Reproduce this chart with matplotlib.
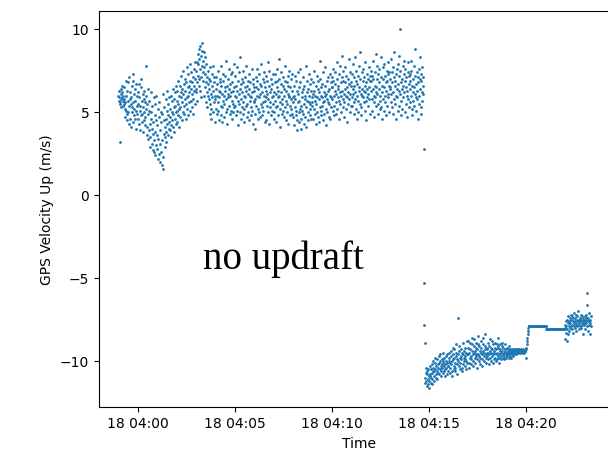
import matplotlib
matplotlib.use('Agg')
import matplotlib.pyplot as plt
import matplotlib.dates as mdates
import numpy as np
import pandas as pd

day = '2021-07-18'

# vertical speed (m/s), one value per second, one block per minute of the log
climb_starts = ['03:59:00', '04:00:00', '04:01:00', '04:02:00', '04:03:00', '04:04:00', '04:05:00', '04:06:00',
                '04:07:00', '04:08:00', '04:09:00', '04:10:00', '04:11:00', '04:12:00', '04:13:00', '04:14:00']
climb_v = [
    """6.0 5.7 5.9 6.3 3.2 5.6 5.5 6.1 6.4 5.8 5.3 5.9 6.6 6.2 5.7 5.4 6.0 5.5 5.8 6.5
       5.2 4.7 5.6 6.0 6.9 5.1 4.5 4.9 6.3 5.7 5.0 6.8 7.1 5.4 4.3 4.6 5.8 6.2 5.5 4.1
       5.9 6.6 5.3 5.0 4.4 6.9 7.3 5.6 4.8 5.2 6.1 4.6 5.7 6.4 4.0 5.1 6.7 5.4 4.9 6.0""",
    """5.5 6.2 4.6 4.3 5.9 6.7 5.1 5.4 3.9 4.8 6.5 7.0 5.7 4.4 4.9 5.3 6.1 3.8 4.5 5.8
       6.3 5.0 4.2 4.7 5.6 7.8 6.0 5.2 3.6 4.1 5.5 6.4 4.9 3.4 3.9 5.1 5.7 4.3 2.9 3.5
       4.6 6.2 5.0 3.1 4.0 5.4 3.7 2.7 4.4 5.9 3.3 2.6 4.8 5.5 3.8 2.4 3.0 4.5 6.0 3.6""",
    """2.8 4.2 5.2 3.4 2.2 2.5 4.7 5.6 3.1 2.0 3.9 5.0 4.4 2.6 1.8 3.3 4.9 6.1 2.3 1.6
       3.7 4.5 5.3 2.9 3.5 4.1 5.8 4.6 3.2 3.8 5.1 6.3 4.3 3.6 4.8 5.5 4.0 4.4 5.9 3.9
       4.7 5.2 6.0 4.2 3.5 5.0 5.7 4.5 6.4 4.9 4.1 5.3 5.8 3.8 4.6 6.2 5.4 4.3 5.0 6.6""",
    """5.1 4.4 5.7 6.3 4.8 5.5 6.9 4.1 5.2 6.0 6.6 5.3 4.7 5.9 7.2 6.2 4.5 5.6 6.4 5.0
       7.5 6.1 5.4 4.9 6.7 5.8 7.0 6.3 4.6 5.5 6.8 7.7 5.9 5.2 6.5 4.8 6.0 7.3 6.6 5.6
       6.2 5.1 7.9 6.9 5.7 6.4 7.4 5.3 6.1 6.8 7.1 5.8 4.9 6.3 7.6 6.6 5.5 7.0 8.0 6.2""",
    """6.4 7.5 8.0 6.8 5.7 7.2 8.5 7.9 6.6 7.0 8.8 8.2 6.3 7.6 9.0 8.4 7.1 5.9 7.8 8.7
       9.2 8.1 6.9 7.4 8.6 7.7 6.0 6.5 8.3 7.3 5.6 6.8 7.9 7.1 6.2 5.3 6.7 7.5 6.0 5.8
       7.0 6.4 4.9 5.5 7.7 6.9 6.1 5.2 4.6 6.6 7.3 5.9 6.3 7.8 5.0 5.6 6.8 7.1 4.4 6.0""",
    """5.8 6.4 7.1 5.2 4.9 6.0 6.7 7.5 5.6 5.1 6.3 4.5 5.9 6.8 6.2 7.0 4.8 5.4 6.6 7.8
       6.1 5.3 4.4 5.7 6.9 7.3 6.0 5.5 4.7 6.5 7.2 6.3 5.0 5.8 8.1 6.6 5.2 4.3 6.1 7.0
       5.9 6.4 7.6 5.4 4.9 6.7 6.0 5.1 7.3 6.2 4.6 5.7 6.8 7.4 5.5 5.0 6.3 7.9 6.5 5.3""",
    """6.0 7.2 5.4 4.8 6.6 5.9 7.7 6.3 5.1 4.2 5.7 6.9 6.1 5.5 7.4 8.3 6.4 5.0 5.8 6.7
       4.6 5.3 7.0 6.2 5.6 4.9 6.8 7.5 6.0 5.2 4.4 6.5 7.1 5.9 5.4 6.3 7.8 6.6 4.7 5.5
       6.9 6.1 5.0 4.5 6.4 7.3 5.7 6.0 6.8 5.3 4.8 5.9 7.6 6.2 5.1 4.3 6.7 7.0 5.6 6.5""",
    """5.7 6.3 4.9 4.0 5.8 7.1 6.5 5.4 6.9 7.6 6.0 5.2 4.6 6.4 7.3 5.9 5.0 6.7 6.1 4.7
       5.5 7.9 6.6 5.3 4.8 6.2 7.0 5.6 5.1 6.8 7.4 6.0 4.4 5.7 6.5 5.9 7.2 6.3 4.5 5.4
       6.1 6.9 8.0 5.8 5.0 4.3 6.6 7.5 6.2 5.3 5.6 7.0 6.4 4.8 5.9 6.7 5.1 7.3 6.0 5.5""",
    """6.2 5.0 4.6 6.8 7.3 5.7 6.1 5.3 4.4 6.5 7.6 6.9 5.4 5.9 4.8 6.3 7.0 8.2 6.0 5.2
       4.1 5.6 6.7 6.2 7.4 5.8 4.9 5.5 6.6 7.1 5.1 6.0 6.4 4.7 5.3 7.8 6.9 5.7 4.5 6.3
       6.8 5.5 5.0 6.1 7.2 6.6 4.3 5.9 7.5 6.0 5.4 4.8 6.5 7.0 5.8 5.2 6.3 7.3 4.9 5.6""",
    """5.9 4.7 4.2 6.0 6.6 5.3 7.2 5.8 4.8 5.1 6.9 6.3 3.9 4.5 5.6 7.4 6.1 5.0 4.4 6.5
       5.7 5.2 6.8 7.6 5.4 4.0 4.6 6.2 5.9 5.1 7.1 6.4 4.9 4.3 5.5 6.6 5.8 4.7 6.0 7.8
       5.3 4.1 5.7 6.9 6.2 5.0 4.5 6.4 5.6 7.3 6.0 4.8 5.2 6.7 5.5 4.6 6.3 7.0 5.9 5.4""",
    """5.6 6.8 6.1 4.6 5.2 7.5 6.3 4.9 5.7 6.0 4.3 5.5 6.6 7.2 5.9 5.0 4.7 6.4 6.9 5.8
       6.2 4.4 5.3 8.1 7.0 6.0 5.1 4.8 6.5 5.4 5.9 6.7 7.4 4.5 5.6 6.2 5.7 4.9 6.0 6.6
       7.7 5.2 4.2 6.1 6.9 5.8 5.0 6.3 7.1 5.6 4.7 5.5 6.4 7.3 6.0 4.6 5.3 6.8 5.9 6.5""",
    """6.5 7.1 5.8 5.1 6.9 7.6 6.0 4.8 5.4 6.3 7.4 6.7 5.6 4.9 6.1 8.0 7.0 5.2 6.4 6.6
       5.9 4.6 5.7 7.3 7.8 6.2 5.5 6.8 6.0 5.0 7.1 8.4 6.3 5.8 5.3 6.9 7.5 6.1 4.7 5.6
       6.4 7.7 6.8 5.2 6.0 7.2 5.9 4.4 6.5 7.0 5.5 6.2 8.2 6.7 5.8 5.0 6.1 7.4 6.6 5.4""",
    """6.8 7.3 5.4 5.9 6.4 7.9 6.1 4.9 5.6 7.1 6.6 6.2 8.3 5.8 5.2 6.9 7.5 6.0 4.6 6.7
       7.2 5.7 5.0 6.3 7.8 6.5 5.5 7.0 8.6 6.1 5.3 4.8 6.4 7.4 6.0 5.9 6.9 7.6 5.6 6.3
       7.1 6.6 5.1 6.2 8.0 5.7 4.5 6.8 7.3 6.4 5.9 7.0 6.1 5.4 7.7 6.5 5.8 6.9 4.9 7.2""",
    """6.3 7.5 6.9 5.8 5.1 7.2 6.4 8.1 7.0 6.0 4.7 5.6 7.4 6.6 5.9 8.5 6.2 5.4 6.5 7.0
       7.8 6.1 4.9 5.5 7.3 6.8 6.4 7.6 5.7 5.2 6.0 8.3 7.1 5.3 6.6 4.6 6.2 7.7 5.8 7.0
       5.1 6.5 7.9 6.0 5.6 7.2 6.8 4.8 6.3 7.5 6.9 5.4 7.3 6.1 8.0 5.9 5.0 6.6 7.4 6.4""",
    """7.0 6.5 5.6 8.2 6.1 5.3 7.4 6.8 4.9 7.7 6.2 5.8 7.1 8.6 6.6 5.5 6.9 4.6 7.3 6.0
       5.9 7.6 6.4 5.1 7.9 6.7 5.4 7.2 8.4 6.3 10.0 6.1 7.5 5.7 6.8 4.8 6.4 7.0 5.2 7.8
       6.6 5.9 8.1 7.3 6.2 5.0 6.9 7.6 5.5 6.5 7.1 6.0 4.7 6.3 7.4 8.0 5.8 6.7 7.2 5.3""",
    """6.4 7.3 5.6 6.9 8.1 7.5 6.0 5.2 6.6 4.8 7.0 6.2 5.7 7.8 6.5 5.4 7.2 6.1 8.8 5.9
       6.7 5.1 7.4 6.3 5.8 7.1 4.6 6.8 7.6 6.0 5.5 7.0 6.4 8.3 5.3 6.9 7.3 4.9 6.2 7.7
       5.7 6.6 7.1 6.1 2.8""",
]

sink_starts = ['04:14:45', '04:15:00', '04:16:00', '04:17:00', '04:18:00', '04:19:00', '04:20:00', '04:21:00',
               '04:22:00', '04:23:00']
sink_v = [
    """-5.3 -7.8 -8.9 -11.0 -11.3 -10.7 -10.4 -11.2 -11.5 -10.8 -10.6 -11.1 -11.4 -10.5 -10.9""",
    """-11.6 -11.2 -10.8 -10.3 -10.9 -11.3 -11.0 -10.5 -10.2 -10.7 -11.4 -11.1 -10.6 -10.0 -10.4
       -10.9 -11.2 -10.6 -10.1 -9.8 -10.5 -11.0 -10.8 -10.3 -9.9 -10.6 -11.1 -10.7 -10.2 -10.4
       -9.7 -10.1 -10.8 -10.5 -10.0 -9.6 -10.3 -10.9 -10.6 -10.2 -9.9 -10.4 -10.7 -10.1 -9.5
       -10.0 -10.6 -10.3 -9.8 -10.5 -10.9 -10.2 -9.7 -10.0 -10.4 -10.8 -10.1 -9.6 -10.3 -10.6""",
    """-10.3 -10.0 -9.5 -9.8 -10.4 -10.7 -10.1 -9.4 -9.7 -10.2 -10.6 -10.9 -10.0 -9.6 -9.2
       -9.9 -10.5 -10.3 -9.8 -9.3 -10.1 -10.6 -10.4 -9.7 -9.0 -9.5 -10.2 -10.8 -9.9 -9.6
       -10.0 -7.4 -10.3 -9.4 -9.1 -9.8 -10.5 -10.1 -9.7 -9.3 -9.9 -10.4 -10.6 -9.5 -8.9
       -9.6 -10.2 -9.8 -9.4 -10.0 -10.3 -9.7 -9.2 -9.9 -10.5 -10.0 -9.5 -8.8 -9.6 -10.1""",
    """-9.6 -9.2 -8.8 -9.5 -10.1 -10.4 -9.8 -9.3 -8.9 -9.7 -10.2 -9.9 -9.4 -8.6 -9.0
       -9.6 -10.0 -10.3 -9.5 -9.1 -8.7 -9.4 -9.8 -10.1 -9.6 -9.2 -8.9 -9.7 -10.4 -9.9
       -9.3 -8.5 -9.0 -9.6 -10.0 -9.7 -9.1 -9.4 -10.2 -9.8 -9.2 -8.8 -9.5 -9.9 -10.3
       -9.6 -9.0 -8.6 -9.4 -9.7 -10.0 -9.5 -9.1 -8.4 -9.3 -9.8 -10.1 -9.6 -9.2 -9.5""",
    """-9.7 -9.3 -8.9 -9.5 -9.9 -10.2 -9.6 -9.1 -8.7 -9.4 -9.8 -10.0 -9.5 -9.2 -8.8
       -9.3 -9.7 -10.1 -9.6 -9.0 -9.4 -9.9 -9.5 -8.9 -9.2 -9.8 -10.0 -9.6 -9.3 -9.0
       -9.5 -9.9 -9.7 -9.2 -8.6 -9.1 -9.6 -10.1 -9.8 -9.4 -9.0 -9.3 -9.7 -9.9 -9.5
       -9.1 -8.9 -9.4 -9.8 -9.6 -9.2 -9.5 -9.9 -9.7 -9.3 -9.0 -9.4 -9.6 -9.8 -9.5""",
    """-9.5 -9.2 -9.7 -9.4 -9.6 -9.3 -9.8 -9.5 -9.1 -9.6 -9.4 -9.7 -9.3 -9.5 -9.8
       -9.4 -9.6 -9.3 -9.5 -9.7 -9.4 -9.5 -9.3 -9.6 -9.4 -9.4 -9.5 -9.3 -9.4 -9.6
       -9.4 -9.3 -9.4 -9.4 -9.5 -9.4 -9.3 -9.3 -9.4 -9.4 -9.4 -9.5 -9.4 -9.4 -9.3
       -9.4 -9.4 -9.4 -9.5 -9.4 -9.4 -9.4 -9.3 -9.4 -9.4 -9.5 -9.4 -9.4 -9.4 -9.8""",
    """-9.3 -9.2 -9.0 -8.8 -8.6 -8.4 -8.2 -8.0 -7.9 -7.9 -7.9 -7.9 -7.9 -7.9 -7.9
       -7.9 -7.9 -7.9 -7.9 -7.9 -7.9 -7.9 -7.9 -7.9 -7.9 -7.9 -7.9 -7.9 -7.9 -7.9
       -7.9 -7.9 -7.9 -7.9 -7.9 -7.9 -7.9 -7.9 -7.9 -7.9 -7.9 -7.9 -7.9 -7.9 -7.9
       -7.9 -7.9 -7.9 -7.9 -7.9 -7.9 -7.9 -7.9 -7.9 -7.9 -7.9 -7.9 -7.9 -7.9 -7.9""",
    """-7.9 -7.9 -7.9 -8.1 -8.1 -8.1 -8.1 -8.1 -8.1 -8.1 -8.1 -8.1 -8.1 -8.1 -8.1
       -8.1 -8.1 -8.1 -8.1 -8.1 -8.1 -8.1 -8.1 -8.1 -8.1 -8.1 -8.1 -8.1 -8.1 -8.1
       -8.1 -8.1 -8.1 -8.1 -8.1 -8.1 -8.1 -8.1 -8.1 -8.1 -8.1 -8.1 -8.1 -8.1 -8.1
       -8.1 -8.1 -8.1 -8.1 -8.1 -8.1 -8.1 -8.1 -8.1 -8.1 -8.1 -8.1 -8.1 -8.1 -8.1""",
    """-8.0 -7.8 -8.7 -7.6 -8.3 -7.9 -8.8 -7.5 -8.1 -7.7 -8.4 -7.3 -7.9 -8.2 -7.6
       -7.4 -8.0 -7.7 -7.2 -7.9 -7.5 -8.1 -7.3 -7.8 -7.6 -8.3 -7.4 -7.7 -7.9 -7.1
       -7.6 -8.0 -7.4 -7.8 -7.2 -7.7 -8.2 -7.5 -7.9 -7.3 -7.6 -7.8 -7.0 -7.5 -8.1
       -7.7 -7.4 -7.9 -7.6 -7.2 -8.0 -7.5 -7.7 -7.3 -7.8 -7.6 -8.4 -7.4 -7.7 -7.5""",
    """-7.8 -7.3 -7.6 -8.1 -7.4 -7.7 -7.2 -7.9 -7.5 -5.9 -6.6 -7.6 -8.2 -7.4 -7.8
       -7.1 -7.6 -8.4 -7.5 -7.7 -7.3 -7.9""",
]


def to_series(starts, blocks):
    t_all, v_all = [], []
    for start, block in zip(starts, blocks):
        v = np.array(block.split(), dtype=float)
        t = pd.Timestamp(f'{day} {start}') + pd.to_timedelta(np.arange(len(v)), unit='s')
        t_all.append(t)
        v_all.append(v)
    return np.concatenate(t_all), np.concatenate(v_all)


t_climb, v_climb = to_series(climb_starts, climb_v)
t_sink, v_sink = to_series(sink_starts, sink_v)
t = np.concatenate([t_climb, t_sink])
v_up = np.concatenate([v_climb, v_sink])

fig = plt.figure(figsize=(6.08, 4.63), dpi=100)
ax = fig.add_axes([0.1628, 0.1203, 0.8569, 0.8549])
ax.scatter(t, v_up, s=1, color='tab:blue')

ax.set_xlim(pd.Timestamp(f'{day} 04:00:00') - pd.Timedelta(minutes=1.993),
            pd.Timestamp(f'{day} 04:00:00') + pd.Timedelta(minutes=24.84))
ax.set_ylim(-12.79, 11.07)
ax.xaxis.set_major_locator(mdates.MinuteLocator(byminute=range(0, 60, 5)))
ax.xaxis.set_major_formatter(mdates.DateFormatter('%d %H:%M'))
ax.set_xlabel('Time')
ax.set_ylabel('GPS Velocity Up (m/s)')

fig.text(202.7 / 608, 1 - 269 / 463, 'no updraft', family='Liberation Serif', fontsize=28,
         ha='left', va='baseline')

plt.savefig('out.png', dpi=100)
plt.close()
